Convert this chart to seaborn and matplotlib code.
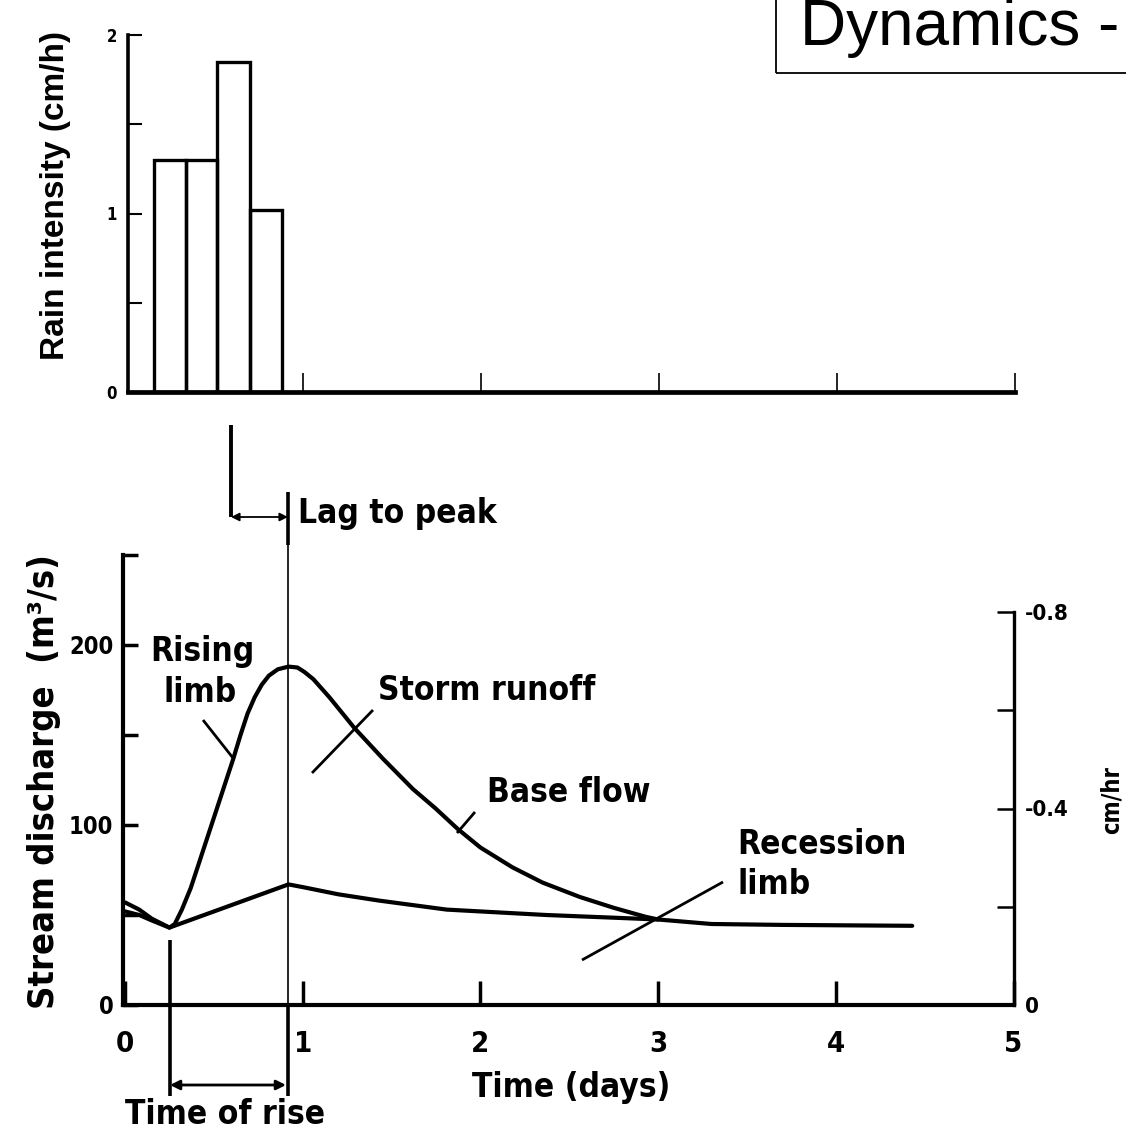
import numpy as np
import pandas as pd
import matplotlib
matplotlib.use("Agg")
import matplotlib.pyplot as plt
import seaborn as sns
from matplotlib.patches import Rectangle

# ---------------- data ----------------
rain_edges = [0.165, 0.34, 0.515, 0.70, 0.88]          # days
rain_intensity = [1.30, 1.30, 1.85, 1.02]               # cm/h

storm_time = [0.0, 0.08, 0.15, 0.25, 0.28, 0.32, 0.37, 0.42, 0.47, 0.52, 0.57,
              0.61, 0.65, 0.69, 0.73, 0.77, 0.81, 0.86, 0.92, 0.97, 1.01, 1.06,
              1.15, 1.29, 1.45, 1.62, 1.75, 1.87, 2.0, 2.18, 2.35, 2.56, 2.75,
              2.93, 3.0, 3.3, 3.7, 4.43]
storm_q = [57, 53, 48, 43, 45, 53, 65, 80, 95, 110, 125,
           137, 150, 162, 171, 178, 183, 186.5, 188, 187.5, 185, 181,
           171, 154, 137, 120, 109, 98, 87.5, 76.5, 68, 60, 54,
           49, 47.5, 45, 44.5, 44]

base_time = [0.0, 0.08, 0.15, 0.25, 0.92, 1.0, 1.2, 1.43, 1.81, 2.37, 2.75, 3.0]
base_q = [52, 50, 47, 43, 67, 65.5, 61.5, 58, 53, 50, 48.5, 47.5]

x_ticks = [0, 1, 2, 3, 4, 5]
x_labels = ["0", "1", "2", "3", "4", "5"]
rain_yticks = [0, 0.5, 1, 1.5, 2]
rain_ylabels = ["0", "", "1", "", "2"]
q_yticks = [0, 50, 100, 150, 200, 250]
q_ylabels = ["0", "", "100", "", "200", ""]
r_yticks = [0, -0.2, -0.4, -0.6, -0.8]
r_ylabels = ["0", "", "-0.4", "", "-0.8"]

# ---------------- style ----------------
sns.set_theme(style="white")
FAM = ["DejaVu Sans"]
plt.rcParams["font.family"] = FAM
plt.rcParams["font.stretch"] = "condensed"
plt.rcParams["axes.edgecolor"] = "black"
plt.rcParams["text.color"] = "black"
plt.rcParams["xtick.color"] = "black"
plt.rcParams["ytick.color"] = "black"
plt.rcParams["axes.labelcolor"] = "black"

W, H = 1126, 1135
fig = plt.figure(figsize=(W / 100, H / 100), dpi=100)
fig.patch.set_facecolor("white")

# x pixel mapping: day 0 at 125 px, 177.7 px per day
def fx(px):
    return (px - 125) / 177.7

# ---------------- top: rain ----------------
ax1 = fig.add_axes([128 / W, 1 - 392 / H, (1015 - 128) / W, (392 - 35) / H])
centers = [(a + b) / 2 for a, b in zip(rain_edges[:-1], rain_edges[1:])]
rain_df = pd.DataFrame({"t": centers, "r": rain_intensity})
sns.histplot(data=rain_df, x="t", weights="r", bins=rain_edges, fill=False,
             element="bars", color="black", linewidth=2.4, ax=ax1)
ax1.set_xlim(fx(128), 5.0)
ax1.set_ylim(0, 2)
ax1.set_xticks([1, 2, 3, 4, 5])
ax1.set_xticklabels([])
ax1.set_yticks(rain_yticks)
ax1.set_yticklabels(rain_ylabels, fontsize=12, fontweight="bold")
ax1.set_xlabel("")
ax1.set_ylabel("Rain intensity (cm/h)", fontsize=24, fontweight="bold",
               family=["Liberation Sans", "DejaVu Sans"])
ax1.yaxis.set_label_coords((71 - 128) / 887, (392 - 195) / 357)
ax1.tick_params(axis="x", direction="in", length=14, width=1.2, bottom=True)
ax1.tick_params(axis="y", direction="in", length=10, width=1.5, left=True, pad=8)
for s in ["top", "right"]:
    ax1.spines[s].set_visible(False)
ax1.spines["left"].set_linewidth(2.6)
ax1.spines["bottom"].set_linewidth(3.4)
ax1.set_facecolor("none")

# ---------------- bottom: hydrograph ----------------
ax2 = fig.add_axes([123 / W, 1 - 1005 / H, (1013.5 - 123) / W, (1005 - 555) / H])
sns.lineplot(x=storm_time, y=storm_q, ax=ax2, color="black", linewidth=3,
             sort=False, estimator=None)
sns.lineplot(x=base_time, y=base_q, ax=ax2, color="black", linewidth=3,
             sort=False, estimator=None)
ax2.set_xlim(fx(123), 5.0)
ax2.set_ylim(0, 250)
ax2.set_xticks(x_ticks)
ax2.set_xticklabels(x_labels, fontsize=21, fontweight="bold")
ax2.set_yticks(q_yticks)
ax2.set_yticklabels(q_ylabels, fontsize=17, fontweight="bold")
ax2.tick_params(axis="x", direction="in", length=17, width=2.5, pad=18, bottom=True)
ax2.tick_params(axis="y", direction="in", length=11, width=2.5, pad=7, left=True)
ax2.set_ylabel("Stream discharge  (m³/s)", fontsize=26, fontweight="bold")
ax2.yaxis.set_label_coords((61 - 123) / 890.5, (1005 - 782) / 450)
ax2.set_xlabel("")
ax2.spines["top"].set_visible(False)
ax2.spines["right"].set_visible(False)
ax2.spines["left"].set_linewidth(3)
ax2.spines["bottom"].set_linewidth(3)
ax2.set_facecolor("none")

# right axis (cm/hr, inverted)
ax3 = ax2.twinx()
ax3.set_ylim(0, -0.8 * 450 / 393)
ax3.set_yticks(r_yticks)
ax3.set_yticklabels(r_ylabels, fontsize=16, fontweight="bold")
ax3.tick_params(axis="y", direction="in", length=12, width=1.8, pad=8, right=True)
for s in ["top", "left", "bottom"]:
    ax3.spines[s].set_visible(False)
ax3.spines["right"].set_bounds(0, -0.8)
ax3.spines["right"].set_linewidth(2.4)
ax3.set_ylabel("cm/hr", fontsize=17, fontweight="bold")
ax3.yaxis.set_label_coords((1100 - 123) / 890.5, (1005 - 800) / 450)
ax3.grid(False)
ax2.grid(False)

# ---------------- annotations (bottom axes data coords) ----------------
def fy(py):
    return (1005 - py) / 1.8

kw = dict(color="black", clip_on=False, solid_capstyle="butt")
# peak vertical line
ax2.plot([fx(288), fx(288)], [fy(492), fy(1005)], lw=1.2, **kw)
ax2.plot([fx(288), fx(288)], [fy(492), fy(545)], lw=2.6, **kw)
ax2.plot([fx(288), fx(288)], [fy(1005), fy(1096)], lw=2.6, **kw)
# lag start line
ax2.plot([fx(231), fx(231)], [fy(425), fy(517)], lw=2.8, **kw)
ax2.annotate("", xy=(fx(288), fy(517)), xytext=(fx(231), fy(517)),
             arrowprops=dict(arrowstyle="<|-|>", color="black", lw=1.3,
                             mutation_scale=12, shrinkA=0, shrinkB=0),
             annotation_clip=False)
# time of rise
ax2.plot([fx(170), fx(170)], [fy(940), fy(1096)], lw=2.6, **kw)
ax2.annotate("", xy=(fx(286), fy(1085)), xytext=(fx(170), fy(1085)),
             arrowprops=dict(arrowstyle="<|-|>", color="black", lw=2,
                             mutation_scale=14, shrinkA=0, shrinkB=0),
             annotation_clip=False)

# pointer lines
ax2.plot([fx(203), fx(233)], [fy(720), fy(758)], lw=2, **kw)
ax2.plot([fx(312), fx(373)], [fy(773), fy(710)], lw=2, **kw)
ax2.plot([fx(457), fx(475)], [fy(833), fy(812)], lw=2, **kw)
ax2.plot([fx(582), fx(723)], [fy(960), fy(882)], lw=2, **kw)

tkw = dict(fontsize=24, fontweight="bold", color="black", va="center",
           clip_on=False)
ax2.text(fx(150), fy(652), "Rising", ha="left", **tkw)
ax2.text(fx(163), fy(692), "limb", ha="left", **tkw)
ax2.text(fx(378), fy(690), "Storm runoff", ha="left", **tkw)
ax2.text(fx(487), fy(792), "Base flow", ha="left", **tkw)
ax2.text(fx(737), fy(845), "Recession", ha="left", **tkw)
ax2.text(fx(737), fy(885), "limb", ha="left", **tkw)
ax2.text(fx(298), fy(513), "Lag to peak", ha="left", **tkw)
ax2.text(fx(571), fy(1088), "Time (days)", ha="center", **tkw)
ax2.text(fx(225), fy(1115), "Time of rise", ha="center", **tkw)

# ---------------- title box ----------------
fig.patches.append(Rectangle((776 / W, 1 - 73 / H), (W + 10 - 776) / W, 80 / H,
                             transform=fig.transFigure, fill=False,
                             edgecolor="black", linewidth=1.3))
fig.text(800 / W, 1 - 45 / H, "Dynamics -", fontsize=46,
         family=["Liberation Sans", "DejaVu Sans"], ha="left",
         va="baseline", color="black")

fig.savefig("out.png", dpi=100, facecolor="white")
